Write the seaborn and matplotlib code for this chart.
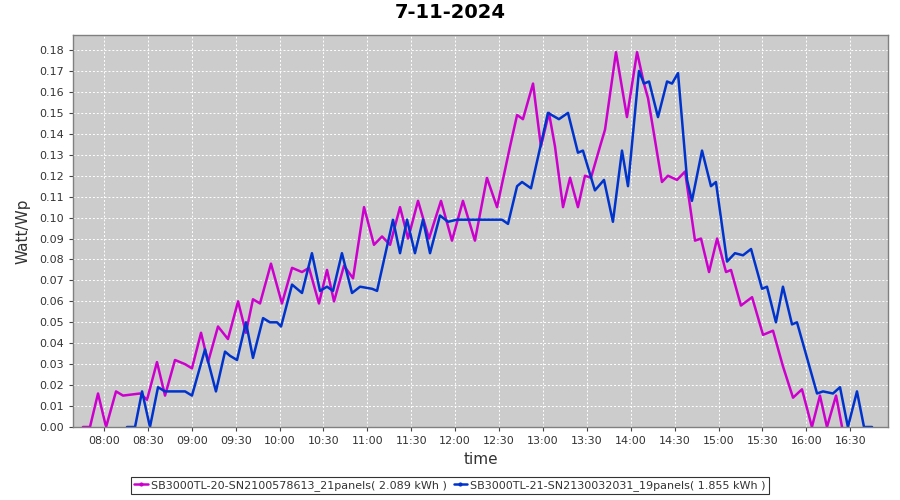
import matplotlib
matplotlib.use("Agg")
import matplotlib.pyplot as plt
import seaborn as sns
import pandas as pd
from matplotlib.ticker import FixedLocator, FuncFormatter
from matplotlib.lines import Line2D

# ---- data (minutes after midnight, Watt/Wp) ----
sb20_name = "SB3000TL-20-SN2100578613_21panels( 2.089 kWh )"
sb20_t = [465.6, 470.4, 475.9, 481.4, 488.2, 493.0, 504.6, 509.4, 516.2, 521.7,
          528.5, 535.4, 540.1, 546.3, 551.1, 557.9, 564.7, 571.6, 577.0, 581.8,
          586.6, 594.1, 601.6, 608.5, 615.3, 620.1, 626.9, 632.4, 637.2, 644.0,
          650.2, 657.7, 664.5, 670.0, 675.5, 682.3, 687.8, 694.6, 702.1, 710.3,
          717.8, 725.3, 733.5, 741.7, 748.6, 757.5, 762.3, 766.3, 773.2, 778.6,
          784.1, 788.2, 793.7, 798.5, 803.9, 808.7, 812.8, 819.0, 822.4, 829.9,
          837.4, 844.3, 849.0, 851.8, 861.3, 865.4, 871.6, 877.1, 883.9, 888.0,
          893.5, 899.0, 905.1, 908.5, 915.3, 922.9, 930.4, 937.2, 944.0, 950.9,
          957.0, 963.8, 969.3, 974.1, 980.3, 984.4]
sb20_v = [0.0, 0.0, 0.016, 0.0, 0.017, 0.015, 0.016, 0.013, 0.031, 0.015,
          0.032, 0.030, 0.028, 0.045, 0.031, 0.048, 0.042, 0.060, 0.045, 0.061,
          0.059, 0.078, 0.059, 0.076, 0.074, 0.076, 0.059, 0.075, 0.060, 0.077,
          0.071, 0.105, 0.087, 0.091, 0.087, 0.105, 0.090, 0.108, 0.090, 0.108,
          0.089, 0.108, 0.089, 0.119, 0.105, 0.134, 0.149, 0.147, 0.164, 0.134,
          0.150, 0.134, 0.105, 0.119, 0.105, 0.120, 0.119, 0.134, 0.142, 0.179,
          0.148, 0.179, 0.164, 0.157, 0.117, 0.120, 0.118, 0.122, 0.089, 0.090,
          0.074, 0.090, 0.074, 0.075, 0.058, 0.062, 0.044, 0.046, 0.029, 0.014,
          0.018, 0.0, 0.015, 0.0, 0.015, 0.0]

sb21_name = "SB3000TL-21-SN2130032031_19panels( 1.855 kWh )"
sb21_t = [495.7, 501.2, 506.0, 511.4, 516.9, 521.7, 535.4, 540.1, 549.0, 556.5,
          562.7, 566.1, 570.9, 577.0, 581.8, 588.7, 593.4, 598.2, 601.0, 608.5,
          615.3, 622.1, 627.6, 632.4, 636.5, 642.6, 649.5, 655.0, 663.2, 666.6,
          677.5, 682.3, 687.1, 692.5, 698.0, 702.8, 709.6, 715.1, 721.2, 748.6,
          752.0, 756.1, 762.3, 765.7, 771.8, 783.4, 790.9, 797.1, 803.9, 807.3,
          815.5, 821.7, 827.8, 834.0, 838.1, 845.6, 849.0, 852.5, 858.6, 864.8,
          868.2, 872.3, 878.5, 881.8, 888.7, 894.8, 898.2, 905.8, 911.2, 916.7,
          922.2, 929.7, 933.1, 939.2, 944.0, 950.2, 953.6, 967.3, 971.4, 978.2,
          983.0, 988.4, 994.6, 999.4, 1004.9]
sb21_v = [0.0, 0.0, 0.017, 0.0, 0.019, 0.017, 0.017, 0.015, 0.037, 0.017,
          0.036, 0.034, 0.032, 0.050, 0.033, 0.052, 0.050, 0.050, 0.048, 0.068,
          0.064, 0.083, 0.065, 0.067, 0.065, 0.083, 0.064, 0.067, 0.066, 0.065,
          0.099, 0.083, 0.099, 0.083, 0.099, 0.083, 0.101, 0.098, 0.099, 0.099,
          0.099, 0.097, 0.115, 0.117, 0.114, 0.150, 0.147, 0.150, 0.131, 0.132,
          0.113, 0.118, 0.098, 0.132, 0.115, 0.170, 0.164, 0.165, 0.148, 0.165,
          0.164, 0.169, 0.118, 0.108, 0.132, 0.115, 0.117, 0.079, 0.083, 0.082,
          0.085, 0.066, 0.067, 0.050, 0.067, 0.049, 0.050, 0.016, 0.017, 0.016,
          0.019, 0.0, 0.017, 0.0, 0.0]

title = "7-11-2024"
x_label = "time"
y_label = "Watt/Wp"
x_ticks = [480 + 30 * i for i in range(18)]
y_ticks = [i / 100 for i in range(19)]

df = pd.concat([
    pd.DataFrame({"t": sb20_t, "v": sb20_v, "series": sb20_name}),
    pd.DataFrame({"t": sb21_t, "v": sb21_v, "series": sb21_name}),
], ignore_index=True)

sns.set_style("white")
plt.rcParams["font.family"] = ["DejaVu Sans"]

fig = plt.figure(figsize=(9, 5), dpi=100)
ax = fig.add_axes([73 / 900, 73 / 500, 815 / 900, 392 / 500])
ax.set_facecolor("#cccccc")

sns.lineplot(data=df, x="t", y="v", hue="series",
             palette={sb20_name: "#cc00cc", sb21_name: "#0033cc"},
             linewidth=1.8, ax=ax, legend=False, sort=True, estimator=None)
for ln in ax.get_lines():
    ln.set_solid_joinstyle("round")

ax.set_xlim(458.8, 1015.8)
ax.set_ylim(0, 0.1872)
ax.xaxis.set_major_locator(FixedLocator(x_ticks))
ax.xaxis.set_major_formatter(FuncFormatter(lambda v, p: f"{int(v)//60:02d}:{int(v)%60:02d}"))
ax.yaxis.set_major_locator(FixedLocator(y_ticks))
ax.yaxis.set_major_formatter(FuncFormatter(lambda v, p: f"{v:.2f}"))
ax.grid(True, color="white", linestyle=(0, (2, 2)), linewidth=0.7)
for s in ax.spines.values():
    s.set_color("#808080")
    s.set_linewidth(1.0)
ax.tick_params(axis="both", labelsize=8, colors="#444444", length=3,
               width=0.8, direction="out", left=True, bottom=True)
for lab in ax.get_xticklabels() + ax.get_yticklabels():
    lab.set_color("#333333")

ax.set_xlabel(x_label, fontsize=11, color="#333333", labelpad=4)
ax.set_ylabel(y_label, fontsize=11, color="#333333", labelpad=6)
fig.suptitle(title, fontsize=14, fontweight="bold", y=0.995, x=0.5, color="black")

handles = [Line2D([0], [0], color="#cc00cc", lw=1.8, marker="o", markersize=2),
           Line2D([0], [0], color="#0033cc", lw=1.8, marker="o", markersize=2)]
leg = fig.legend(handles, [sb20_name, sb21_name], loc="lower center",
                 bbox_to_anchor=(0.5, 0.0), ncol=2, fontsize=8, frameon=True,
                 fancybox=False, handlelength=1.2, handletextpad=0.3,
                 columnspacing=0.6, borderpad=0.3)
leg.get_frame().set_edgecolor("black")
leg.get_frame().set_linewidth(0.8)
for t in leg.get_texts():
    t.set_color("#333333")

fig.savefig("out.png", dpi=100)
